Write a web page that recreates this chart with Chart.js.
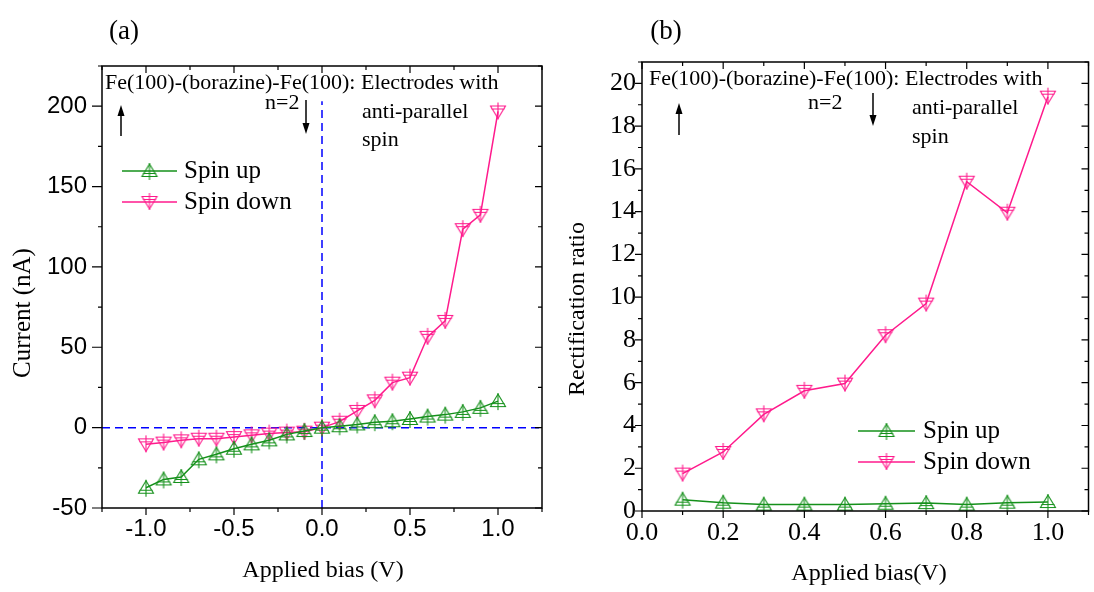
<!DOCTYPE html>
<html>
<head>
<meta charset="utf-8">
<script src="https://cdn.jsdelivr.net/npm/chart.js@4.4.1/dist/chart.umd.min.js"></script>
<style>
  body { margin: 0; background: #fff; }
  #wrap { position: relative; width: 1094px; height: 592px; }
  canvas { position: absolute; top: 0; }
</style>
</head>
<body>
<div id="wrap">
  <canvas id="chartA" width="560" height="592" style="left:0"></canvas>
  <canvas id="chartB" width="534" height="592" style="left:560px"></canvas>
</div>
<script>
// panel (a): I-V curves
var biasA = [-1.0, -0.9, -0.8, -0.7, -0.6, -0.5, -0.4, -0.3, -0.2, -0.1, 0.0,
             0.1, 0.2, 0.3, 0.4, 0.5, 0.6, 0.7, 0.8, 0.9, 1.0];
var currentUp = [-37.4, -32.2, -30.7, -19.7, -16.6, -13.1, -10.4, -7.9, -4.2, -2.1, 0,
                 0.9, 2.0, 3.4, 4.0, 5.4, 6.9, 8.1, 9.8, 12.3, 16.5];
var currentDown = [-10.4, -9.3, -7.9, -6.9, -6.9, -5.9, -4.8, -3.7, -3.1, -2.5, 0,
                   3.7, 10.4, 17.0, 28.0, 31.1, 56.5, 66.4, 123.5, 132.4, 196.7];
var ticksAx = [-1.0, -0.5, 0.0, 0.5, 1.0];
var ticksAy = [-50, 0, 50, 100, 150, 200];

// panel (b): rectification ratio
var biasB = [0.1, 0.2, 0.3, 0.4, 0.5, 0.6, 0.7, 0.8, 0.9, 1.0];
var ratioUp = [0.53, 0.39, 0.30, 0.30, 0.30, 0.34, 0.37, 0.30, 0.39, 0.42];
var ratioDown = [1.75, 2.76, 4.52, 5.62, 5.96, 8.22, 9.70, 15.4, 13.95, 19.38];
var ticksBx = [0.0, 0.2, 0.4, 0.6, 0.8, 1.0];
var ticksBy = [0, 2, 4, 6, 8, 10, 12, 14, 16, 18, 20];

var GREEN = '#14901a';
var PINK = '#ff1a8c';
var SERIF = '"Liberation Serif", "Times New Roman", serif';
var SANS = '"Liberation Sans", Arial, sans-serif';

Chart.defaults.color = '#000';

// open triangle with a cross, like the Origin symbols
function makeMarker(color, up) {
  var c = document.createElement('canvas');
  c.width = 22; c.height = 22;
  var g = c.getContext('2d');
  g.strokeStyle = color;
  g.lineWidth = 1.1;
  g.beginPath();
  if (up) { g.moveTo(11, 4); g.lineTo(18.5, 16.5); g.lineTo(3.5, 16.5); }
  else { g.moveTo(3.5, 5.5); g.lineTo(18.5, 5.5); g.lineTo(11, 18); }
  g.closePath();
  g.stroke();
  g.beginPath();
  var hy = up ? 13.5 : 8.5;
  g.moveTo(4.5, hy); g.lineTo(17.5, hy);
  g.moveTo(11, up ? 3 : 2); g.lineTo(11, up ? 20 : 19);
  g.stroke();
  return c;
}
var markUp = makeMarker(GREEN, true);
var markDown = makeMarker(PINK, false);

function pts(xs, ys) {
  return xs.map(function (x, i) { return { x: x, y: ys[i] }; });
}

// box, ticks on all four sides, texts, arrows and legend
var decorPlugin = {
  id: 'decor',
  afterDraw: function (chart, args, o) {
    var ctx = chart.ctx, a = chart.chartArea;
    var xs = chart.scales.x, ys = chart.scales.y;
    ctx.save();
    ctx.strokeStyle = '#000';
    ctx.lineWidth = 1.5;
    ctx.strokeRect(a.left, a.top, a.right - a.left, a.bottom - a.top);

    ctx.lineWidth = 1.2;
    ctx.beginPath();
    var v, p, big;
    for (v = xs.min; v <= xs.max + 1e-9; v += o.xMinor) {
      p = xs.getPixelForValue(v);
      big = Math.abs(v / o.xMajor - Math.round(v / o.xMajor)) < 1e-6;
      ctx.moveTo(p, a.bottom); ctx.lineTo(p, a.bottom + (big ? 7 : 4));
      ctx.moveTo(p, a.top); ctx.lineTo(p, a.top + (big ? 7 : 4));
    }
    for (v = ys.min; v <= ys.max + 1e-9; v += o.yMinor) {
      p = ys.getPixelForValue(v);
      big = Math.abs(v / o.yMajor - Math.round(v / o.yMajor)) < 1e-6;
      ctx.moveTo(a.left, p); ctx.lineTo(a.left - (big ? o.yTick : 4), p);
      ctx.moveTo(a.right, p); ctx.lineTo(a.right - (big ? 7 : 4), p);
    }
    ctx.stroke();

    ctx.fillStyle = '#000';
    o.texts.forEach(function (t) {
      ctx.save();
      ctx.font = t.size + 'px ' + SERIF;
      ctx.textAlign = t.align || 'left';
      ctx.textBaseline = 'middle';
      ctx.translate(t.x, t.y);
      if (t.rot) ctx.rotate(-Math.PI / 2);
      ctx.fillText(t.t, 0, 0);
      ctx.restore();
    });

    ctx.lineWidth = 1.5;
    o.arrows.forEach(function (ar) {
      var dir = ar.y2 > ar.y1 ? 1 : -1;
      ctx.beginPath();
      ctx.moveTo(ar.x, ar.y1); ctx.lineTo(ar.x, ar.y2 - dir * 6);
      ctx.stroke();
      ctx.beginPath();
      ctx.moveTo(ar.x, ar.y2);
      ctx.lineTo(ar.x - 3.5, ar.y2 - dir * 11);
      ctx.lineTo(ar.x + 3.5, ar.y2 - dir * 11);
      ctx.closePath();
      ctx.fill();
    });

    o.legend.forEach(function (l) {
      ctx.strokeStyle = l.color;
      ctx.lineWidth = 1.5;
      ctx.beginPath();
      ctx.moveTo(l.x1, l.y); ctx.lineTo(l.x2, l.y);
      ctx.stroke();
      ctx.drawImage(l.mark, (l.x1 + l.x2) / 2 - 11, l.y - 11);
      ctx.fillStyle = '#000';
      ctx.font = '25px ' + SERIF;
      ctx.textAlign = 'left';
      ctx.textBaseline = 'middle';
      ctx.fillText(l.text, l.tx, l.y);
    });
    ctx.restore();
  }
};

function fixTicks(list) {
  return function (scale) {
    scale.ticks = list.map(function (v) { return { value: v }; });
  };
}

// ---------- panel (a) ----------
var chartA = new Chart(document.getElementById('chartA'), {
  type: 'line',
  data: {
    datasets: [
      { data: pts(biasA, currentUp), borderColor: GREEN, borderWidth: 1.5,
        pointStyle: markUp, order: 1 },
      { data: pts(biasA, currentDown), borderColor: PINK, borderWidth: 1.5,
        pointStyle: markDown, order: 1 },
      { data: [{ x: 0, y: -50 }, { x: 0, y: 203 }], borderColor: '#0000ff',
        borderWidth: 1.5, borderDash: [8, 5], pointRadius: 0, order: 2 },
      { data: [{ x: -1.25, y: 0 }, { x: 1.25, y: 0 }], borderColor: '#0000ff',
        borderWidth: 1.5, borderDash: [8, 5], pointRadius: 0, order: 2 }
    ]
  },
  options: {
    responsive: false,
    animation: false,
    layout: { padding: { left: 0, top: 66, right: 18, bottom: 0 } },
    plugins: {
      legend: { display: false },
      tooltip: { enabled: false },
      decor: {
        xMinor: 0.25, xMajor: 0.5, yMinor: 25, yMajor: 50, yTick: 10,
        texts: [
          { t: '(a)', x: 124, y: 32, size: 27, align: 'center' },
          { t: 'Fe(100)-(borazine)-Fe(100): Electrodes with', x: 105, y: 83, size: 22 },
          { t: 'n=2', x: 265, y: 103, size: 22 },
          { t: 'anti-parallel', x: 362, y: 112, size: 22 },
          { t: 'spin', x: 362, y: 140, size: 22 },
          { t: 'Current (nA)', x: 23, y: 313, size: 25, align: 'center', rot: true },
          { t: 'Applied bias (V)', x: 323, y: 571, size: 24, align: 'center' }
        ],
        arrows: [ { x: 121, y1: 136, y2: 105 }, { x: 306, y1: 100, y2: 134 } ],
        legend: [
          { x1: 122, x2: 177, y: 171, color: GREEN, mark: markUp, text: 'Spin up', tx: 184 },
          { x1: 122, x2: 177, y: 202, color: PINK, mark: markDown, text: 'Spin down', tx: 184 }
        ]
      }
    },
    scales: {
      x: {
        type: 'linear', min: -1.25, max: 1.25,
        afterFit: function (s) { s.height = 84; },
        afterBuildTicks: fixTicks(ticksAx),
        grid: { display: false, drawTicks: false },
        border: { display: false },
        ticks: { font: { family: SANS, size: 24 }, padding: 7, autoSkip: false, maxRotation: 0,
                 callback: function (v) { return v.toFixed(1); } }
      },
      y: {
        type: 'linear', min: -50, max: 225,
        afterFit: function (s) { s.width = 102; },
        afterBuildTicks: fixTicks(ticksAy),
        grid: { display: false, drawTicks: false },
        border: { display: false },
        ticks: { font: { family: SANS, size: 24 }, padding: 15 }
      }
    }
  },
  plugins: [decorPlugin]
});

// ---------- panel (b) ----------
var chartB = new Chart(document.getElementById('chartB'), {
  type: 'line',
  data: {
    datasets: [
      { data: pts(biasB, ratioUp), borderColor: GREEN, borderWidth: 1.5, pointStyle: markUp },
      { data: pts(biasB, ratioDown), borderColor: PINK, borderWidth: 1.5, pointStyle: markDown }
    ]
  },
  options: {
    responsive: false,
    animation: false,
    layout: { padding: { left: 0, top: 62, right: 2, bottom: 0 } },
    plugins: {
      legend: { display: false },
      tooltip: { enabled: false },
      decor: {
        xMinor: 0.1, xMajor: 0.2, yMinor: 1, yMajor: 2, yTick: 7,
        texts: [
          { t: '(b)', x: 106, y: 32, size: 27, align: 'center' },
          { t: 'Fe(100)-(borazine)-Fe(100): Electrodes with', x: 89, y: 79, size: 22 },
          { t: 'n=2', x: 248, y: 103, size: 22 },
          { t: 'anti-parallel', x: 352, y: 108, size: 22 },
          { t: 'spin', x: 352, y: 137, size: 22 },
          { t: 'Rectification ratio', x: 18, y: 309, size: 24, align: 'center', rot: true },
          { t: 'Applied bias(V)', x: 309, y: 574, size: 24, align: 'center' }
        ],
        arrows: [ { x: 119, y1: 135, y2: 103 }, { x: 313, y1: 93, y2: 126 } ],
        legend: [
          { x1: 298, x2: 355, y: 431, color: GREEN, mark: markUp, text: 'Spin up', tx: 363 },
          { x1: 298, x2: 355, y: 462, color: PINK, mark: markDown, text: 'Spin down', tx: 363 }
        ]
      }
    },
    scales: {
      x: {
        type: 'linear', min: 0, max: 1.1,
        afterFit: function (s) { s.height = 81; },
        afterBuildTicks: fixTicks(ticksBx),
        grid: { display: false, drawTicks: false },
        border: { display: false },
        ticks: { font: { family: SERIF, size: 26 }, padding: 7, autoSkip: false, maxRotation: 0,
                 callback: function (v) { return v.toFixed(1); } }
      },
      y: {
        type: 'linear', min: 0, max: 21,
        afterFit: function (s) { s.width = 82; },
        afterBuildTicks: fixTicks(ticksBy),
        grid: { display: false, drawTicks: false },
        border: { display: false },
        ticks: { font: { family: SERIF, size: 26 }, padding: 6 }
      }
    }
  },
  plugins: [decorPlugin]
});
</script>
</body>
</html>
